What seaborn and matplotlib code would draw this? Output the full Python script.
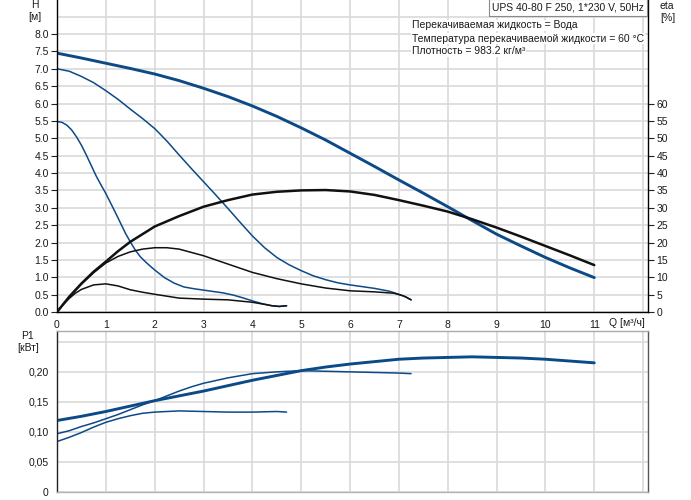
import matplotlib
matplotlib.use("Agg")
import matplotlib.pyplot as plt
import seaborn as sns

# ---- data ----
# head curves H [m] for the three speeds
q_h_max = [0, 0.5, 1, 1.5, 2, 2.5, 3, 3.5, 4, 4.5, 5, 5.5, 6, 6.5, 7, 7.5, 8, 8.5, 9, 9.5, 10, 10.5, 11]
h_max = [7.45, 7.31, 7.16, 7.01, 6.85, 6.66, 6.44, 6.20, 5.93, 5.63, 5.30, 4.95, 4.57, 4.19, 3.80, 3.42,
         3.03, 2.63, 2.24, 1.90, 1.57, 1.27, 0.99]

q_h_mid = [0, 0.25, 0.5, 0.75, 1, 1.25, 1.5, 1.75, 2, 2.25, 2.5, 2.75, 3, 3.25, 3.5, 3.75, 4, 4.25, 4.5,
           4.75, 5, 5.25, 5.5, 5.75, 6, 6.5, 6.8, 7.0, 7.15, 7.25]
h_mid = [7.0, 6.93, 6.78, 6.60, 6.37, 6.12, 5.84, 5.57, 5.28, 4.92, 4.52, 4.13, 3.75, 3.37, 2.98, 2.58,
         2.19, 1.85, 1.57, 1.36, 1.19, 1.04, 0.93, 0.84, 0.78, 0.68, 0.60, 0.51, 0.43, 0.35]

q_h_min = [0, 0.1, 0.2, 0.3, 0.4, 0.5, 0.6, 0.7, 0.8, 0.9, 1.0, 1.1, 1.2, 1.3, 1.4, 1.5, 1.6, 1.7, 1.8,
           1.9, 2.0, 2.2, 2.4, 2.6, 2.8, 3.0, 3.2, 3.4, 3.6, 3.8, 4.0, 4.2, 4.4, 4.55, 4.7]
h_min = [5.48, 5.46, 5.38, 5.24, 5.04, 4.80, 4.52, 4.22, 3.92, 3.66, 3.41, 3.13, 2.85, 2.56, 2.27, 2.02,
         1.79, 1.60, 1.46, 1.33, 1.21, 0.99, 0.83, 0.72, 0.67, 0.63, 0.59, 0.55, 0.49, 0.41, 0.32, 0.24,
         0.18, 0.16, 0.18]

# efficiency curves eta [%]
q_eta_max = [0, 0.25, 0.5, 0.75, 1, 1.25, 1.5, 2, 2.5, 3, 3.5, 4, 4.5, 5, 5.5, 6, 6.5, 7, 7.5, 8, 8.5,
             9, 9.5, 10, 10.5, 11]
eta_max = [0, 4.4, 8.2, 11.6, 14.5, 17.5, 20.2, 24.6, 27.6, 30.3, 32.2, 33.8, 34.6, 35.0, 35.1, 34.7,
           33.7, 32.2, 30.6, 28.9, 26.7, 24.3, 21.7, 19.0, 16.3, 13.5]

q_eta_mid = [0, 0.25, 0.5, 0.75, 1, 1.25, 1.5, 1.75, 2, 2.25, 2.5, 3, 3.5, 4, 4.5, 5, 5.5, 6, 6.5, 6.9,
             7.1, 7.25]
eta_mid = [0, 4.3, 8.0, 11.3, 14.1, 16.0, 17.3, 18.1, 18.5, 18.5, 18.1, 16.2, 13.8, 11.4, 9.6, 8.1,
           6.9, 6.1, 5.8, 5.4, 4.6, 3.5]

q_eta_min = [0, 0.125, 0.25, 0.375, 0.5, 0.75, 1, 1.25, 1.5, 1.75, 2, 2.5, 3, 3.5, 4, 4.25, 4.4,
             4.55, 4.7]
eta_min = [0, 2.1, 3.9, 5.4, 6.5, 7.8, 8.1, 7.5, 6.4, 5.7, 5.1, 4.0, 3.7, 3.5, 2.8, 2.2, 1.8, 1.6, 1.8]

# power input P1 [kW]
q_p_max = [0, 0.5, 1, 1.5, 2, 2.5, 3, 3.5, 4, 4.5, 5, 5.5, 6, 6.5, 7, 7.5, 8, 8.5, 9, 9.5, 10, 10.5, 11]
p_max = [0.119, 0.126, 0.134, 0.143, 0.152, 0.160, 0.168, 0.177, 0.186, 0.194, 0.202, 0.208, 0.213,
         0.217, 0.221, 0.223, 0.224, 0.225, 0.224, 0.223, 0.221, 0.218, 0.215]

q_p_mid = [0, 0.25, 0.5, 0.75, 1, 1.25, 1.5, 1.75, 2, 2.25, 2.5, 2.75, 3, 3.5, 4, 4.5, 5, 5.5, 6, 6.5,
           7, 7.25]
p_mid = [0.097, 0.102, 0.109, 0.115, 0.122, 0.129, 0.137, 0.145, 0.152, 0.160, 0.168, 0.175, 0.181,
         0.190, 0.197, 0.200, 0.202, 0.201, 0.200, 0.199, 0.198, 0.197]

q_p_min = [0, 0.25, 0.5, 0.75, 1, 1.25, 1.5, 1.75, 2, 2.5, 3, 3.5, 4, 4.5, 4.7]
p_min = [0.084, 0.091, 0.099, 0.108, 0.116, 0.122, 0.127, 0.131, 0.133, 0.135, 0.134, 0.133, 0.133,
         0.134, 0.133]

# ticks / labels
h_ticks = [i * 0.5 for i in range(17)]
eta_ticks = list(range(0, 65, 5))
q_ticks = list(range(0, 13))
p_ticks = [0, 0.05, 0.10, 0.15, 0.20, 0.25]
p_tick_labels = ["0", "0,05", "0,10", "0,15", "0,20", ""]

title_text = "UPS 40-80 F 250, 1*230 V, 50Hz"
info_lines = ["Перекачиваемая жидкость = Вода",
              "Температура перекачиваемой жидкости = 60 °C",
              "Плотность = 983.2 кг/м³"]

# ---- style ----
sns.set_style("white")
plt.rcParams['font.family'] = ['Liberation Sans', 'DejaVu Sans']
FS = 7.5
TXT = "#1a1a1a"
BLUE = "#0c4a87"
BLACK = "#111111"
GRID = "#d9d9d9"

W, H = 691, 500
fig = plt.figure(figsize=(6.91, 5.0), dpi=100)
fig.patch.set_facecolor("white")

XMAX = 12.1

# === top panel: H and eta ===
ax = fig.add_axes([57 / W, 188 / H, 591 / W, 312 / H])
ax.set_xlim(0, XMAX)
ax.set_ylim(0, 8.98)
ax.set_xticks(q_ticks)
ax.set_xticklabels([str(t) for t in q_ticks[:-1]] + [""], fontsize=FS, color=TXT)
ax.set_yticks(h_ticks)
ax.set_yticklabels([f"{t:.1f}" for t in h_ticks], fontsize=FS, color=TXT)
ax.set_yticks([8.5], minor=True)
ax.grid(True, which="both", color=GRID, linewidth=1.2, zorder=0)
ax.tick_params(axis="both", direction="out", length=4, width=0.8, color="#222", pad=2)
ax.tick_params(axis="y", which="minor", length=0)
for s in ["left", "bottom"]:
    ax.spines[s].set_color("#000")
    ax.spines[s].set_linewidth(1.0)
ax.spines["top"].set_visible(False)
ax.spines["right"].set_visible(False)

sns.lineplot(x=q_h_max, y=h_max, ax=ax, color=BLUE, linewidth=2.1, sort=False, estimator=None)
sns.lineplot(x=q_h_mid, y=h_mid, ax=ax, color=BLUE, linewidth=1.1, sort=False, estimator=None)
sns.lineplot(x=q_h_min, y=h_min, ax=ax, color=BLUE, linewidth=1.1, sort=False, estimator=None)
ax.set_xlabel("")
ax.set_ylabel("")

ax2 = ax.twinx()
ax2.set_ylim(0, 89.8)
ax2.set_yticks(eta_ticks)
ax2.set_yticklabels([str(t) for t in eta_ticks], fontsize=FS, color=TXT)
ax2.tick_params(axis="y", direction="out", length=4, width=0.8, color="#222", pad=2)
for s in ["left", "bottom", "top"]:
    ax2.spines[s].set_visible(False)
ax2.spines["right"].set_color("#000")
ax2.spines["right"].set_linewidth(1.0)
ax2.grid(False)

sns.lineplot(x=q_eta_max, y=eta_max, ax=ax2, color=BLACK, linewidth=1.8, sort=False, estimator=None)
sns.lineplot(x=q_eta_mid, y=eta_mid, ax=ax2, color=BLACK, linewidth=1.1, sort=False, estimator=None)
sns.lineplot(x=q_eta_min, y=eta_min, ax=ax2, color=BLACK, linewidth=1.1, sort=False, estimator=None)
ax2.set_ylabel("")

# === bottom panel: P1 ===
axp = fig.add_axes([57 / W, 8 / H, 591 / W, 161 / H])
axp.set_xlim(0, XMAX)
axp.set_ylim(0, 0.268)
axp.set_xticks(q_ticks)
axp.set_xticklabels([])
axp.set_yticks(p_ticks)
axp.set_yticklabels(p_tick_labels, fontsize=FS, color=TXT)
axp.grid(True, color=GRID, linewidth=1.2, zorder=0)
axp.tick_params(axis="x", length=0)
axp.tick_params(axis="y", direction="out", length=4, width=0.8, color="#222", pad=2)
axp.spines["left"].set_color("#222")
axp.spines["right"].set_color("#555")
axp.spines["top"].set_color("#aaaaaa")
axp.spines["bottom"].set_color("#b4b4b4")
for s in axp.spines.values():
    s.set_linewidth(1.0)

sns.lineplot(x=q_p_max, y=p_max, ax=axp, color=BLUE, linewidth=2.1, sort=False, estimator=None)
sns.lineplot(x=q_p_mid, y=p_mid, ax=axp, color=BLUE, linewidth=1.1, sort=False, estimator=None)
sns.lineplot(x=q_p_min, y=p_min, ax=axp, color=BLUE, linewidth=1.1, sort=False, estimator=None)
axp.set_xlabel("")
axp.set_ylabel("")

# === axis titles and annotations ===
def ftext(px, py, s, **kw):
    fig.text(px / W, 1 - py / H, s, fontsize=FS, color=TXT, ha="center", va="center", **kw)

ftext(35, 5, "H")
ftext(35, 17, "[м]")
ftext(667, 6, "eta")
ftext(668, 18, "[%]")
ftext(28, 336, "P1")
ftext(28, 348, "[кВт]")
ftext(627, 323, "Q [м³/ч]")

fig.text(568 / W, 1 - 7.5 / H, title_text, fontsize=FS, color=TXT, ha="center", va="center",
         bbox=dict(facecolor="white", edgecolor="#8a8a8a", boxstyle="square,pad=0.3", linewidth=0.8))
for i, line in enumerate(info_lines):
    fig.text(412 / W, 1 - (25.5 + 13 * i) / H, line, fontsize=FS, color=TXT, ha="left", va="center",
             bbox=dict(facecolor="white", edgecolor="none", pad=0.6))

fig.savefig("out.png", dpi=100, facecolor="white")
